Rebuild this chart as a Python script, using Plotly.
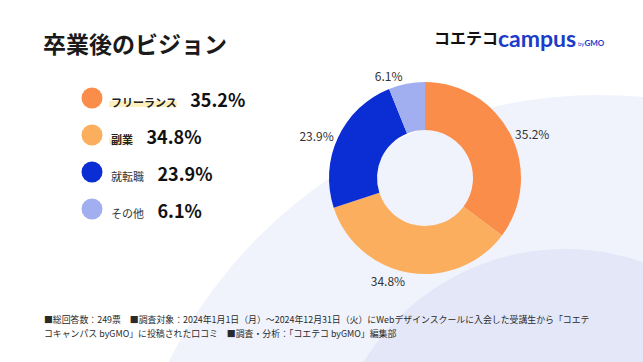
import plotly.graph_objects as go

# ---- data ----
categories = ["フリーランス", "副業", "就転職", "その他"]
values = [35.2, 34.8, 23.9, 6.1]
colors = ["#FB8D4B", "#FBAF5E", "#0B2DD4", "#A1AFF0"]
bold_label = [True, True, False, False]
highlight = [True, True, False, False]

title_text = "卒業後のビジョン"
footnote_lines = [
    "■総回答数：249票　■調査対象：2024年1月1日（月）～2024年12月31日（火）にWebデザインスクールに入会した受講生から「コエテ",
    "コキャンパス byGMO」に投稿された口コミ　■調査・分析：「コエテコ byGMO」編集部",
]

W, H = 643, 362
JP = "Noto Sans CJK JP"

fig = go.Figure()

# donut
cx, cy, R = 425, 178, 96
fig.add_trace(go.Pie(
    labels=categories, values=values, sort=False, direction="clockwise", rotation=0,
    hole=0.5, marker=dict(colors=colors, line=dict(width=0)),
    texttemplate="%{value:.1f}%", textposition="outside",
    textfont=dict(family=JP, size=12, color="#333333"),
    domain=dict(x=[(cx - R) / W, (cx + R) / W], y=[(H - cy - R) / H, (H - cy + R) / H]),
    showlegend=False, hoverinfo="label+value",
))

# custom legend (markers on a hidden pixel-scaled axis)
row0, dy, mx = 98, 37, 92
ys = [row0 + dy * i for i in range(len(categories))]
fig.add_trace(go.Scatter(
    x=[mx] * len(categories), y=ys, mode="markers",
    marker=dict(size=21, color=colors, line=dict(width=0)),
    showlegend=False, hoverinfo="skip",
))

annotations = []
shapes = []
# background circles
shapes.append(dict(type="circle", xref="x", yref="y", x0=600 - 482, x1=600 + 482,
                   y0=577 - 482, y1=577 + 482, fillcolor="#F0F3FC", line=dict(width=0), layer="below"))
shapes.append(dict(type="circle", xref="x", yref="y", x0=565 - 236, x1=565 + 236,
                   y0=485 - 236, y1=485 + 236, fillcolor="#E3E7F8", line=dict(width=0), layer="below"))

for i, (c, v) in enumerate(zip(categories, values)):
    lab = f"<b>{c}</b>" if bold_label[i] else c
    lab_col = "#222222" if bold_label[i] else "#333333"
    txt = (f"<span style='font-size:11px;color:{lab_col}'>{lab}</span>"
           f"<span style='font-size:11px'>　 </span>"
           f"<b>{v:.1f}%</b>")
    annotations.append(dict(x=109, y=ys[i] + 1, xref="x", yref="y", text=txt, showarrow=False,
                            xanchor="left", yanchor="middle",
                            font=dict(family=JP, size=18, color="#111111")))
    if highlight[i]:
        wlab = 11 * len(c) + 2
        shapes.append(dict(type="rect", xref="x", yref="y", x0=109, x1=109 + wlab,
                           y0=ys[i] + 3, y1=ys[i] + 9, fillcolor="#FDF0BE",
                           line=dict(width=0), layer="below"))

# title
annotations.append(dict(x=41, y=43, xref="x", yref="y", text=f"<b>{title_text}</b>", showarrow=False,
                        xanchor="left", yanchor="middle", font=dict(family=JP, size=23, color="#1A1A1A")))
# logo
annotations.append(dict(x=432, y=37, xref="x", yref="y", text="<b>コエテコ</b>", showarrow=False,
                        xanchor="left", yanchor="middle", font=dict(family=JP, size=16, color="#111111")))
annotations.append(dict(x=496, y=38, xref="x", yref="y", text="<b>campus</b>", showarrow=False,
                        xanchor="left", yanchor="middle", font=dict(family="Lato", size=23, color="#1B3CC8")))
annotations.append(dict(x=576, y=43, xref="x", yref="y", text="<span style='font-size:6px'>by</span><b>GMO</b>",
                        showarrow=False, xanchor="left", yanchor="middle",
                        font=dict(family="Lato", size=8, color="#1B3CC8")))
# footnote
for j, line in enumerate(footnote_lines):
    annotations.append(dict(x=42, y=319 + 14 * j, xref="x", yref="y", text=line, showarrow=False, align="left",
                            xanchor="left", yanchor="middle", font=dict(family=JP, size=8.9, color="#2A2A2A")))

fig.update_layout(
    width=W, height=H, margin=dict(l=0, r=0, t=0, b=0),
    paper_bgcolor="white", plot_bgcolor="rgba(0,0,0,0)",
    xaxis=dict(range=[0, W], visible=False, fixedrange=True),
    yaxis=dict(range=[H, 0], visible=False, fixedrange=True),
    shapes=shapes, annotations=annotations,
)

fig.write_html("out.html", config={"displayModeBar": False},
               post_script="document.body.style.margin='0';document.body.style.overflow='hidden';")
